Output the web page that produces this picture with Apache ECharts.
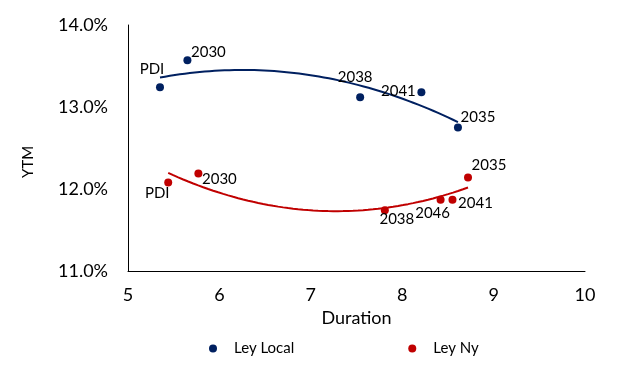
<!DOCTYPE html>
<html>
<head>
<meta charset="utf-8">
<script src="https://cdn.jsdelivr.net/npm/echarts@6/dist/echarts.min.js"></script>
<style>
  html, body { margin: 0; padding: 0; background: #fff; }
  #chart { width: 626px; height: 372px; }
</style>
</head>
<body>
<div id="chart"></div>
<script>
// values (duration in years, YTM in %)
const localNames = ['PDI', '2030', '2038', '2041', '2035'];
const localDur = [5.35, 5.65, 7.54, 8.21, 8.61];
const localYtm = [13.24, 13.57, 13.12, 13.18, 12.75];

const nyNames = ['PDI', '2030', '2038', '2046', '2041', '2035'];
const nyDur = [5.44, 5.77, 7.81, 8.42, 8.55, 8.72];
const nyYtm = [12.08, 12.19, 11.74, 11.87, 11.87, 12.14];

const xTicks = [5, 6, 7, 8, 9, 10];
const yTicks = [11, 12, 13, 14];

// where each point label sits relative to its dot (dx, dy in px)
const localLabelPos = {PDI: [-8, -18], '2030': [21, -8], '2038': [-5, -20], '2041': [-23, -1], '2035': [20, -10]};
const nyLabelPos = {PDI: [-11, 11], '2030': [21, 6], '2038': [12, 9], '2046': [-8, 13], '2041': [23, 3], '2035': [21, -12]};

const NAVY = '#002060';
const RED = '#C00000';
const FONT = 'Lato, "Open Sans", sans-serif';
const SYM = 8;

// 2nd order polynomial trendline, like the spreadsheet one
function quadFit(xs, ys) {
  let s = [0, 0, 0, 0, 0], t = [0, 0, 0];
  for (let i = 0; i < xs.length; i++) {
    let p = 1;
    for (let k = 0; k < 5; k++) { s[k] += p; if (k < 3) t[k] += p * ys[i]; p *= xs[i]; }
  }
  const m = [[s[0], s[1], s[2]], [s[1], s[2], s[3]], [s[2], s[3], s[4]]];
  const det = a => a[0][0] * (a[1][1] * a[2][2] - a[1][2] * a[2][1])
    - a[0][1] * (a[1][0] * a[2][2] - a[1][2] * a[2][0])
    + a[0][2] * (a[1][0] * a[2][1] - a[1][1] * a[2][0]);
  const d = det(m);
  const coef = [0, 1, 2].map(c => det(m.map((row, r) => row.map((v, j) => j === c ? t[r] : v))) / d);
  return x => coef[0] + coef[1] * x + coef[2] * x * x;
}

function trend(xs, ys) {
  const f = quadFit(xs, ys);
  const lo = Math.min(...xs), hi = Math.max(...xs);
  const pts = [];
  for (let i = 0; i <= 60; i++) {
    const x = lo + (hi - lo) * i / 60;
    pts.push([x, f(x)]);
  }
  return pts;
}

function points(xs, ys, names, pos) {
  return xs.map((x, i) => ({
    name: names[i],
    value: [x, ys[i]],
    label: {position: [SYM / 2 + pos[names[i]][0], SYM / 2 + pos[names[i]][1]]}
  }));
}

const pointLabel = {
  show: true,
  formatter: p => p.name,
  align: 'center',
  verticalAlign: 'middle',
  color: '#000',
  fontFamily: FONT,
  fontSize: 15
};

const chart = echarts.init(document.getElementById('chart'), null, {renderer: 'canvas'});
chart.setOption({
  animation: false,
  backgroundColor: '#fff',
  grid: {left: 128, right: 41, top: 25, bottom: 101},
  xAxis: {
    type: 'value',
    min: xTicks[0],
    max: xTicks[xTicks.length - 1],
    interval: 1,
    name: 'Duration',
    nameLocation: 'middle',
    nameGap: 35,
    nameTextStyle: {color: '#000', fontFamily: FONT, fontSize: 18},
    axisLine: {lineStyle: {color: '#000', width: 1}},
    axisTick: {show: false},
    splitLine: {show: false},
    axisLabel: {color: '#000', fontFamily: FONT, fontSize: 18, margin: 15}
  },
  yAxis: {
    type: 'value',
    min: yTicks[0],
    max: yTicks[yTicks.length - 1],
    interval: 1,
    name: 'YTM',
    nameLocation: 'middle',
    nameGap: 92,
    nameTextStyle: {color: '#000', fontFamily: FONT, fontSize: 15, padding: [0, 28, 0, 0]},
    axisLine: {show: true, lineStyle: {color: '#000', width: 1}},
    axisTick: {show: false},
    splitLine: {show: false},
    axisLabel: {color: '#000', fontFamily: FONT, fontSize: 18, margin: 20, formatter: v => v.toFixed(1) + '%'}
  },
  legend: {
    data: ['Ley Local', 'Ley Ny'],
    left: 204,
    top: 336,
    icon: 'circle',
    itemWidth: 8,
    itemHeight: 8,
    itemGap: 114,
    textStyle: {color: '#000', fontFamily: FONT, fontSize: 15, padding: [0, 0, 0, 12]}
  },
  series: [
    {
      name: 'Ley Local trend',
      type: 'line',
      data: trend(localDur, localYtm),
      showSymbol: false,
      lineStyle: {color: NAVY, width: 2},
      z: 1
    },
    {
      name: 'Ley Ny trend',
      type: 'line',
      data: trend(nyDur, nyYtm),
      showSymbol: false,
      lineStyle: {color: RED, width: 2},
      z: 1
    },
    {
      name: 'Ley Local',
      type: 'scatter',
      symbolSize: SYM,
      itemStyle: {color: NAVY, opacity: 1},
      label: pointLabel,
      data: points(localDur, localYtm, localNames, localLabelPos),
      z: 3
    },
    {
      name: 'Ley Ny',
      type: 'scatter',
      symbolSize: SYM,
      itemStyle: {color: RED, opacity: 1},
      label: pointLabel,
      data: points(nyDur, nyYtm, nyNames, nyLabelPos),
      z: 3
    }
  ]
});
</script>
</body>
</html>
